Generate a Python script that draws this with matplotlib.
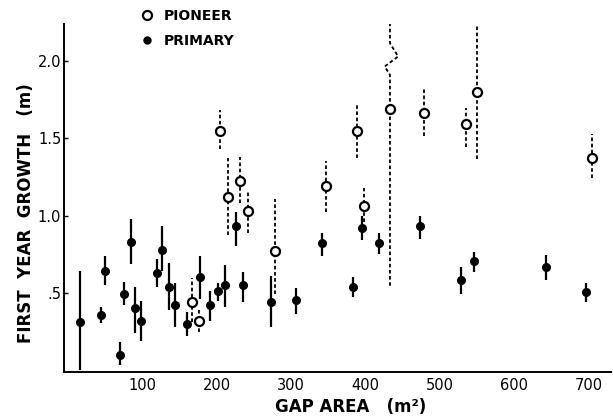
import matplotlib
matplotlib.use("Agg")
import matplotlib.pyplot as plt
from matplotlib.lines import Line2D
import numpy as np

# ---------------- data ----------------
primary_x = [16, 45, 50, 70, 75, 85, 91, 99, 120, 127, 136, 144, 160, 178, 191,
             202, 212, 226, 236, 273, 307, 342, 383, 395, 418, 473, 528, 546, 642, 697]
primary_y = [0.31, 0.355, 0.64, 0.10, 0.49, 0.83, 0.40, 0.32, 0.63, 0.78, 0.54, 0.42,
             0.30, 0.60, 0.42, 0.51, 0.55, 0.93, 0.55, 0.44, 0.45, 0.82, 0.54, 0.92,
             0.82, 0.93, 0.58, 0.705, 0.67, 0.505]
primary_lo = [0.0, 0.305, 0.55, 0.03, 0.42, 0.685, 0.24, 0.19, 0.54, 0.64, 0.39, 0.28,
              0.22, 0.46, 0.32, 0.445, 0.41, 0.80, 0.44, 0.28, 0.365, 0.735, 0.47, 0.84,
              0.75, 0.85, 0.49, 0.635, 0.58, 0.44]
primary_hi = [0.64, 0.41, 0.735, 0.18, 0.57, 0.975, 0.54, 0.445, 0.72, 0.935, 0.69, 0.56,
              0.375, 0.735, 0.51, 0.565, 0.68, 1.025, 0.635, 0.61, 0.53, 0.885, 0.605, 1.0,
              0.89, 1.0, 0.67, 0.765, 0.745, 0.56]

pioneer_x = [167, 176, 204, 216, 231, 242, 279, 347, 389, 398, 433, 479, 535, 550, 704]
pioneer_y = [0.44, 0.32, 1.55, 1.12, 1.225, 1.03, 0.77, 1.19, 1.545, 1.06, 1.69, 1.665,
             1.59, 1.80, 1.375]
pioneer_lo = [0.31, 0.245, 1.43, 0.875, 1.08, 0.885, 0.49, 1.025, 1.375, 0.955, 0.545,
              1.515, 1.445, 1.365, 1.24]
pioneer_hi = [0.595, 0.39, 1.685, 1.37, 1.38, 1.15, 1.11, 1.35, 1.72, 1.18, 2.24,
              1.82, 1.695, 2.24, 1.525]
# wiggle drawn in the long dashed bar of the 433 m2 gap
break_index = 10
break_y = [1.91, 1.965, 2.03, 2.115]
break_dx = [0, -7, 11, 0]

y_ticks = [0.5, 1.0, 1.5, 2.0]
y_ticklabels = [".5", "1.0", "1.5", "2.0"]
x_ticks = [100, 200, 300, 400, 500, 600, 700]
x_ticklabels = ["100", "200", "300", "400", "500", "600", "700"]

# ---------------- figure ----------------
plt.rcParams["font.family"] = ["DejaVu Sans"]
fig = plt.figure(figsize=(6.13, 4.17), dpi=100)
ax = fig.add_axes([64 / 613, 45 / 417, 547 / 613, 348 / 417])

# pioneer: dashed bars + open circles
dash = (0, (2.0, 1.4))
for i, (x, y, lo, hi) in enumerate(zip(pioneer_x, pioneer_y, pioneer_lo, pioneer_hi)):
    if i == break_index:
        xs = [x, x] + [x + d for d in break_dx] + [x]
        ys = [lo, break_y[0]] + break_y + [hi]
        ax.plot(xs, ys, color="black", lw=1.3, linestyle=dash, zorder=2)
    else:
        ax.plot([x, x], [lo, hi], color="black", lw=1.3, linestyle=dash, zorder=2)
ax.plot(pioneer_x, pioneer_y, linestyle="none", marker="o", markersize=6.5,
        markerfacecolor="white", markeredgecolor="black", markeredgewidth=1.6, zorder=4)

# primary: solid bars + filled circles
p_y = np.array(primary_y)
yerr = [p_y - np.array(primary_lo), np.array(primary_hi) - p_y]
ax.errorbar(primary_x, primary_y, yerr=yerr, fmt="o", color="black", ecolor="black",
            elinewidth=1.6, capsize=0, markersize=5.5, zorder=3)

ax.set_xlim(-5, 730)
ax.set_ylim(-0.013, 2.24)

for side in ["top", "right"]:
    ax.spines[side].set_visible(False)
for side in ["left", "bottom"]:
    ax.spines[side].set_linewidth(1.4)

ax.set_yticks(y_ticks)
ax.set_yticklabels(y_ticklabels, fontsize=10.5)
ax.set_xticks(x_ticks)
ax.set_xticklabels(x_ticklabels, fontsize=10.5)
ax.tick_params(axis="y", direction="in", length=3, width=1, pad=2)
ax.tick_params(axis="x", length=0, pad=4)

fig.text(0.042, 0.49, "FIRST  YEAR  GROWTH   (m)", rotation=90, ha="center", va="center",
         fontsize=12, fontweight="bold")
fig.text(0.572, 0.024, "GAP AREA   (m\u00b2)", ha="center", va="center",
         fontsize=12, fontweight="bold")

handles = [
    Line2D([], [], linestyle="none", marker="o", markersize=6.5, markerfacecolor="white",
           markeredgecolor="black", markeredgewidth=1.6),
    Line2D([], [], linestyle="none", marker="o", markersize=5, color="black"),
]
fig.legend(handles, ["PIONEER", "PRIMARY"], loc="upper left",
           bbox_to_anchor=(140 / 613, 1 - 9 / 417), frameon=False, handlelength=1.0,
           handletextpad=0.7, borderpad=0, borderaxespad=0, labelspacing=0.8,
           prop={"size": 10, "weight": "bold"})

fig.savefig("out.png", dpi=100)
